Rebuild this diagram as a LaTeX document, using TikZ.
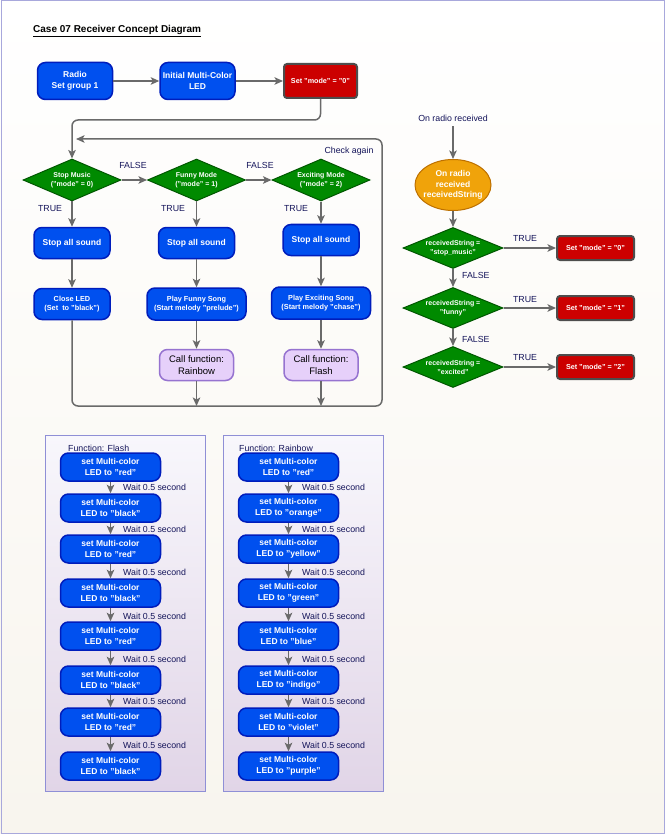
\documentclass[tikz,border=0pt]{standalone}
\usepackage{fontspec}
\setmainfont{Liberation Sans}
\usepackage{xcolor}
\usetikzlibrary{shapes.geometric, positioning, arrows.meta, calc}

\definecolor{boxblue}{HTML}{0050EF}
\definecolor{boxblueline}{HTML}{001DBC}
\definecolor{qgreen}{HTML}{008A00}
\definecolor{qgreenline}{HTML}{005700}
\definecolor{setred}{HTML}{CC0000}
\definecolor{setredline}{HTML}{4D4D4D}
\definecolor{ovalorange}{HTML}{F0A30A}
\definecolor{ovalline}{HTML}{BD7000}
\definecolor{callpurple}{HTML}{E6D0FA}
\definecolor{callline}{HTML}{9673D0}
\definecolor{labelnavy}{HTML}{14145A}
\definecolor{arrowgray}{HTML}{6A6A6A}
\definecolor{panelline}{HTML}{8F8FD6}
\definecolor{paneltop}{HTML}{F8F7FC}
\definecolor{panelbottom}{HTML}{E1D5E7}
\definecolor{pagebottom}{HTML}{F8F5EE}
\definecolor{pageline}{HTML}{A8A8DC}

\begin{document}
\begin{tikzpicture}[
    x=1pt, y=-1pt,
    bluebox/.style={draw=boxblueline, fill=boxblue, line width=1.5pt, rounded corners=8pt, text=white, align=center, inner sep=0pt, font=\fontsize{8.5}{11}\selectfont\bfseries},
    smallblue/.style={bluebox, font=\fontsize{7.3}{9.5}\selectfont\bfseries},
    funcbox/.style={bluebox, minimum width=100pt, minimum height=28pt, font=\fontsize{8.5}{10.5}\selectfont\bfseries},
    redbox/.style={draw=setredline, fill=setred, line width=2pt, rounded corners=3pt, text=white, align=center, inner sep=0pt, font=\fontsize{7.2}{9}\selectfont\bfseries},
    decision/.style={diamond, aspect=2.35, draw=qgreenline, fill=qgreen, line width=1pt, text=white, align=center, inner sep=0pt, minimum width=98pt, minimum height=42pt, font=\fontsize{7}{9}\selectfont\bfseries},
    callbox/.style={draw=callline, fill=callpurple, line width=1.5pt, rounded corners=8pt, align=center, inner sep=0pt, minimum width=74pt, minimum height=31pt, font=\fontsize{9.5}{11.5}\selectfont},
    eventoval/.style={ellipse, draw=ovalline, fill=ovalorange, line width=1pt, text=white, align=center, inner xsep=-10pt, inner ysep=0pt, minimum width=76pt, minimum height=51pt, font=\fontsize{8.5}{10.5}\selectfont\bfseries},
    textlabel/.style={text=labelnavy, inner sep=0pt, font=\fontsize{8.8}{10}\selectfont},
    panel/.style={draw=panelline, line width=1pt, top color=paneltop, bottom color=panelbottom},
    arrow/.style={->, >={Stealth[length=8.5pt, width=7.5pt, inset=2pt]}, draw=arrowgray, line width=1.5pt}
]
    % --- Page ---
    \useasboundingbox (0,0) rectangle (665,834);
    \fill[top color=white, bottom color=pagebottom] (0,0) rectangle (665,834);
    \draw[pageline, line width=1pt] (1,1) rectangle (664,833);

    \node[anchor=west, inner sep=0pt, font=\fontsize{10}{12}\selectfont\bfseries] (title) at (33,31) {\underline{Case 07 Receiver Concept Diagram}};

    % --- Start ---
    \node[bluebox, minimum width=75pt, minimum height=37pt] (radio) at (75,81) {Radio\\Set group 1};
    \node[bluebox, minimum width=75pt, minimum height=37pt] (initled) at (197.5,81) {Initial Multi-Color\\LED};
    \node[redbox, minimum width=73pt, minimum height=34pt] (setmode) at (320.5,81) {Set "mode" = "0"};

    \draw[arrow] (radio) -- (initled);
    \draw[arrow] (initled) -- (setmode);

    % --- Checks ---
    \node[decision] (stopq) at (72,180) {Stop Music\\("mode" = 0)};
    \node[decision] (funnyq) at (196.5,180) {Funny Mode\\("mode" = 1)};
    \node[decision] (excitingq) at (321,180) {Exciting Mode\\("mode" = 2)};

    \coordinate (startturn) at (72,120);
    \draw[arrow, rounded corners=6pt] (setmode.south) |- (startturn) -- (stopq.north);
    \draw[arrow] (stopq) -- (funnyq);
    \draw[arrow] (funnyq) -- (excitingq);
    \node[textlabel] (false1) at (133,165) {FALSE};
    \node[textlabel] (false2) at (260,165) {FALSE};
    \node[textlabel] (true1) at (50,209) {TRUE};
    \node[textlabel] (true2) at (173,209) {TRUE};
    \node[textlabel] (true3) at (296,209) {TRUE};

    % --- Stop Music ---
    \node[bluebox, minimum width=76pt, minimum height=31pt] (stopsound1) at (72,243) {Stop all sound};
    \node[smallblue, minimum width=76pt, minimum height=31pt] (closeled) at (72,304) {Close LED\\(Set~~to "black")};

    \draw[arrow] (stopq) -- (stopsound1);
    \draw[arrow] (stopsound1) -- (closeled);

    % --- Funny Mode ---
    \node[bluebox, minimum width=76pt, minimum height=31pt] (stopsound2) at (196.5,243) {Stop all sound};
    \node[smallblue, minimum width=99pt, minimum height=32pt] (playfunny) at (196.5,304) {Play Funny Song\\(Start melody "prelude")};
    \node[callbox] (callrain) at (196.5,365) {Call function:\\Rainbow};

    \draw[arrow] (funnyq) -- (stopsound2);
    \draw[arrow] (stopsound2) -- (playfunny);
    \draw[arrow] (playfunny) -- (callrain);

    % --- Exciting Mode ---
    \node[bluebox, minimum width=76pt, minimum height=31pt] (stopsound3) at (321,240) {Stop all sound};
    \node[smallblue, minimum width=99pt, minimum height=32pt] (playexciting) at (321,303) {Play Exciting Song\\(Start melody "chase")};
    \node[callbox] (callflash) at (321,365) {Call function:\\Flash};

    \draw[arrow] (excitingq) -- (stopsound3);
    \draw[arrow] (stopsound3) -- (playexciting);
    \draw[arrow] (playexciting) -- (callflash);

    % --- Loop back ---
    \coordinate (loopcorner) at (382,406);
    \coordinate (loopend) at (76,139);
    \coordinate (rainjoin) at (196.5,406);
    \coordinate (flashjoin) at (321,406);
    \draw[arrow, rounded corners=6pt] (closeled.south) |- (loopcorner) |- (loopend);
    \draw[arrow] (callrain) -- (rainjoin);
    \draw[arrow] (callflash) -- (flashjoin);
    \node[textlabel] (checkagain) at (349,151) {Check again};

    % --- On radio received ---
    \node[textlabel] (onradio) at (453,118) {On radio received};
    \node[eventoval] (radiorecv) at (453,185) {On radio\\received\\receivedString};
    \node[decision, minimum width=100pt, minimum height=41pt] (recvstop) at (453,248) {receivedString =\\"stop\_music"};
    \node[decision, minimum width=100pt, minimum height=41pt] (recvfunny) at (453,308) {receivedString =\\"funny"};
    \node[decision, minimum width=100pt, minimum height=41pt] (recvexcited) at (453,367) {receivedString =\\"excited"};

    \node[redbox, minimum width=77pt, minimum height=24pt] (setzero) at (595.5,248) {Set "mode" = "0"};
    \node[redbox, minimum width=77pt, minimum height=24pt] (setone) at (595.5,308) {Set "mode" = "1"};
    \node[redbox, minimum width=77pt, minimum height=24pt] (settwo) at (595.5,367) {Set "mode" = "2"};

    \draw[arrow, shorten <=5pt] (onradio) -- (radiorecv);
    \draw[arrow] (radiorecv) -- (recvstop);
    \draw[arrow] (recvstop) -- (recvfunny);
    \draw[arrow] (recvfunny) -- (recvexcited);
    \draw[arrow] (recvstop) -- (setzero);
    \draw[arrow] (recvfunny) -- (setone);
    \draw[arrow] (recvexcited) -- (settwo);

    \node[textlabel] (rtrue1) at (525,239) {TRUE};
    \node[textlabel] (rtrue2) at (525,300) {TRUE};
    \node[textlabel] (rtrue3) at (525,358) {TRUE};
    \node[textlabel, anchor=west] (rfalse1) at (462,275) {FALSE};
    \node[textlabel, anchor=west] (rfalse2) at (462,339) {FALSE};

    % --- Function: Flash ---
    \draw[panel] (45.5,435.5) rectangle (205.5,791.5);
    \node[textlabel, anchor=west] (flashtitle) at (68,448) {Function: Flash};

    \node[funcbox] (flash1) at (110.5,467) {set Multi-color\\LED to "red"};
    \node[funcbox] (flash2) at (110.5,508) {set Multi-color\\LED to "black"};
    \node[funcbox] (flash3) at (110.5,549) {set Multi-color\\LED to "red"};
    \node[funcbox] (flash4) at (110.5,593) {set Multi-color\\LED to "black"};
    \node[funcbox] (flash5) at (110.5,636) {set Multi-color\\LED to "red"};
    \node[funcbox] (flash6) at (110.5,680) {set Multi-color\\LED to "black"};
    \node[funcbox] (flash7) at (110.5,722) {set Multi-color\\LED to "red"};
    \node[funcbox] (flash8) at (110.5,766) {set Multi-color\\LED to "black"};

    \draw[arrow] (flash1) -- (flash2);
    \draw[arrow] (flash2) -- (flash3);
    \draw[arrow] (flash3) -- (flash4);
    \draw[arrow] (flash4) -- (flash5);
    \draw[arrow] (flash5) -- (flash6);
    \draw[arrow] (flash6) -- (flash7);
    \draw[arrow] (flash7) -- (flash8);

    \node[textlabel, anchor=west] (flashwait1) at (123,487) {Wait 0.5 second};
    \node[textlabel, anchor=west] (flashwait2) at (123,529) {Wait 0.5 second};
    \node[textlabel, anchor=west] (flashwait3) at (123,572) {Wait 0.5 second};
    \node[textlabel, anchor=west] (flashwait4) at (123,616) {Wait 0.5 second};
    \node[textlabel, anchor=west] (flashwait5) at (123,659) {Wait 0.5 second};
    \node[textlabel, anchor=west] (flashwait6) at (123,701) {Wait 0.5 second};
    \node[textlabel, anchor=west] (flashwait7) at (123,745) {Wait 0.5 second};

    % --- Function: Rainbow ---
    \draw[panel] (223.5,435.5) rectangle (383.5,791.5);
    \node[textlabel, anchor=west] (raintitle) at (239,448) {Function: Rainbow};

    \node[funcbox] (rain1) at (288.5,467) {set Multi-color\\LED to "red"};
    \node[funcbox] (rain2) at (288.5,508) {set Multi-color\\LED to "orange"};
    \node[funcbox] (rain3) at (288.5,549) {set Multi-color\\LED to "yellow"};
    \node[funcbox] (rain4) at (288.5,593) {set Multi-color\\LED to "green"};
    \node[funcbox] (rain5) at (288.5,636) {set Multi-color\\LED to "blue"};
    \node[funcbox] (rain6) at (288.5,680) {set Multi-color\\LED to "indigo"};
    \node[funcbox] (rain7) at (288.5,722) {set Multi-color\\LED to "violet"};
    \node[funcbox] (rain8) at (288.5,766) {set Multi-color\\LED to "purple"};

    \draw[arrow] (rain1) -- (rain2);
    \draw[arrow] (rain2) -- (rain3);
    \draw[arrow] (rain3) -- (rain4);
    \draw[arrow] (rain4) -- (rain5);
    \draw[arrow] (rain5) -- (rain6);
    \draw[arrow] (rain6) -- (rain7);
    \draw[arrow] (rain7) -- (rain8);

    \node[textlabel, anchor=west] (rainwait1) at (302,487) {Wait 0.5 second};
    \node[textlabel, anchor=west] (rainwait2) at (302,529) {Wait 0.5 second};
    \node[textlabel, anchor=west] (rainwait3) at (302,572) {Wait 0.5 second};
    \node[textlabel, anchor=west] (rainwait4) at (302,616) {Wait 0.5 second};
    \node[textlabel, anchor=west] (rainwait5) at (302,659) {Wait 0.5 second};
    \node[textlabel, anchor=west] (rainwait6) at (302,701) {Wait 0.5 second};
    \node[textlabel, anchor=west] (rainwait7) at (302,745) {Wait 0.5 second};

\end{tikzpicture}
\end{document}
